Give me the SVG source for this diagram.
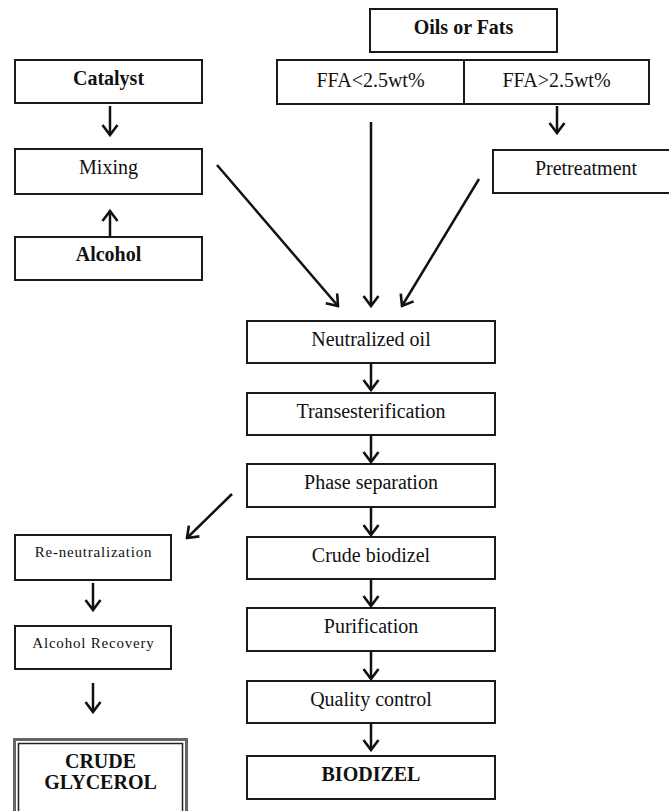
<svg xmlns="http://www.w3.org/2000/svg" width="669" height="811" viewBox="0 0 669 811">
<style>
.box{fill:#fff;stroke:#1a1a1a;stroke-width:2}
.t{font-family:'Liberation Serif','DejaVu Serif',serif;font-size:20px;fill:#111;text-anchor:middle}
.b{font-weight:bold}
.s{font-size:15px;letter-spacing:0.8px}
.c{fill:none;stroke:#111;stroke-width:2.5;marker-end:url(#ah)}
</style>
<defs>
<marker id="ah" markerUnits="userSpaceOnUse" viewBox="-12 -10 14 20" refX="0" refY="0" markerWidth="14" markerHeight="20" orient="auto">
<path d="M-10,-7.5 L0,0 L-10,7.5" fill="none" stroke="#111" stroke-width="2.6" stroke-linejoin="miter"/>
</marker>
</defs>
<rect width="669" height="811" fill="#fff"/>
<g id="oils"><rect class="box" x="370" y="9" width="187" height="43"/><text class="t b" x="463.5" y="34">Oils or Fats</text></g>
<g id="ffa_low"><rect class="box" x="277" y="60" width="187" height="44"/><text class="t" x="370.5" y="87">FFA&lt;2.5wt%</text></g>
<g id="ffa_high"><rect class="box" x="464" y="60" width="185" height="44"/><text class="t" x="556.5" y="87">FFA&gt;2.5wt%</text></g>
<g id="catalyst"><rect class="box" x="15" y="60" width="187" height="43"/><text class="t b" x="108.5" y="85">Catalyst</text></g>
<g id="mixing"><rect class="box" x="15" y="149" width="187" height="45"/><text class="t" x="108.5" y="174">Mixing</text></g>
<g id="alcohol"><rect class="box" x="15" y="237" width="187" height="43"/><text class="t b" x="108.5" y="261">Alcohol</text></g>
<g id="pretreatment"><rect class="box" x="493" y="150" width="186" height="43"/><text class="t" x="586" y="175">Pretreatment</text></g>
<g id="neutralized"><rect class="box" x="247" y="321" width="248" height="42"/><text class="t" x="371" y="346">Neutralized oil</text></g>
<g id="transesterification"><rect class="box" x="247" y="393" width="248" height="42"/><text class="t" x="371" y="418">Transesterification</text></g>
<g id="phase"><rect class="box" x="247" y="464" width="248" height="43"/><text class="t" x="371" y="489">Phase separation</text></g>
<g id="crude_bio"><rect class="box" x="247" y="537" width="248" height="42"/><text class="t" x="371" y="562">Crude biodizel</text></g>
<g id="purification"><rect class="box" x="247" y="608" width="248" height="43"/><text class="t" x="371" y="633">Purification</text></g>
<g id="quality"><rect class="box" x="247" y="681" width="248" height="42"/><text class="t" x="371" y="706">Quality control</text></g>
<g id="biodizel"><rect class="box" x="247" y="756" width="248" height="43"/><text class="t b" x="371" y="781">BIODIZEL</text></g>
<g id="reneutralization"><rect class="box" x="15" y="535" width="156" height="45"/><text class="t s" x="93.5" y="557">Re-neutralization</text></g>
<g id="alc_recovery"><rect class="box" x="15" y="626" width="156" height="43"/><text class="t s" x="93.5" y="648">Alcohol Recovery</text></g>
<g id="crude_glycerol">
<rect x="14.5" y="739.5" width="172" height="80" fill="#fff" stroke="#666" stroke-width="3"/>
<rect x="18.5" y="743.5" width="164" height="72" fill="none" stroke="#222" stroke-width="1.5"/>
<text class="t b" x="100.5" y="768">CRUDE</text><text class="t b" x="100.5" y="789">GLYCEROL</text>
</g>
<g id="connectors">
<line class="c" x1="110" y1="106" x2="110" y2="135"/>
<line class="c" x1="110" y1="237" x2="110" y2="211"/>
<line class="c" x1="557" y1="106" x2="557" y2="133"/>
<line class="c" x1="217" y1="165" x2="338" y2="306"/>
<line class="c" x1="371" y1="122" x2="371" y2="306"/>
<line class="c" x1="479" y1="179" x2="402" y2="306"/>
<line class="c" x1="371" y1="363" x2="371" y2="390"/>
<line class="c" x1="371" y1="435" x2="371" y2="462"/>
<line class="c" x1="371" y1="507" x2="371" y2="535"/>
<line class="c" x1="371" y1="579" x2="371" y2="606"/>
<line class="c" x1="371" y1="651" x2="371" y2="679"/>
<line class="c" x1="371" y1="723" x2="371" y2="750"/>
<line class="c" x1="232" y1="494" x2="187" y2="538"/>
<line class="c" x1="93" y1="583" x2="93" y2="610"/>
<line class="c" x1="93" y1="683" x2="93" y2="712"/>
</g>
</svg>
